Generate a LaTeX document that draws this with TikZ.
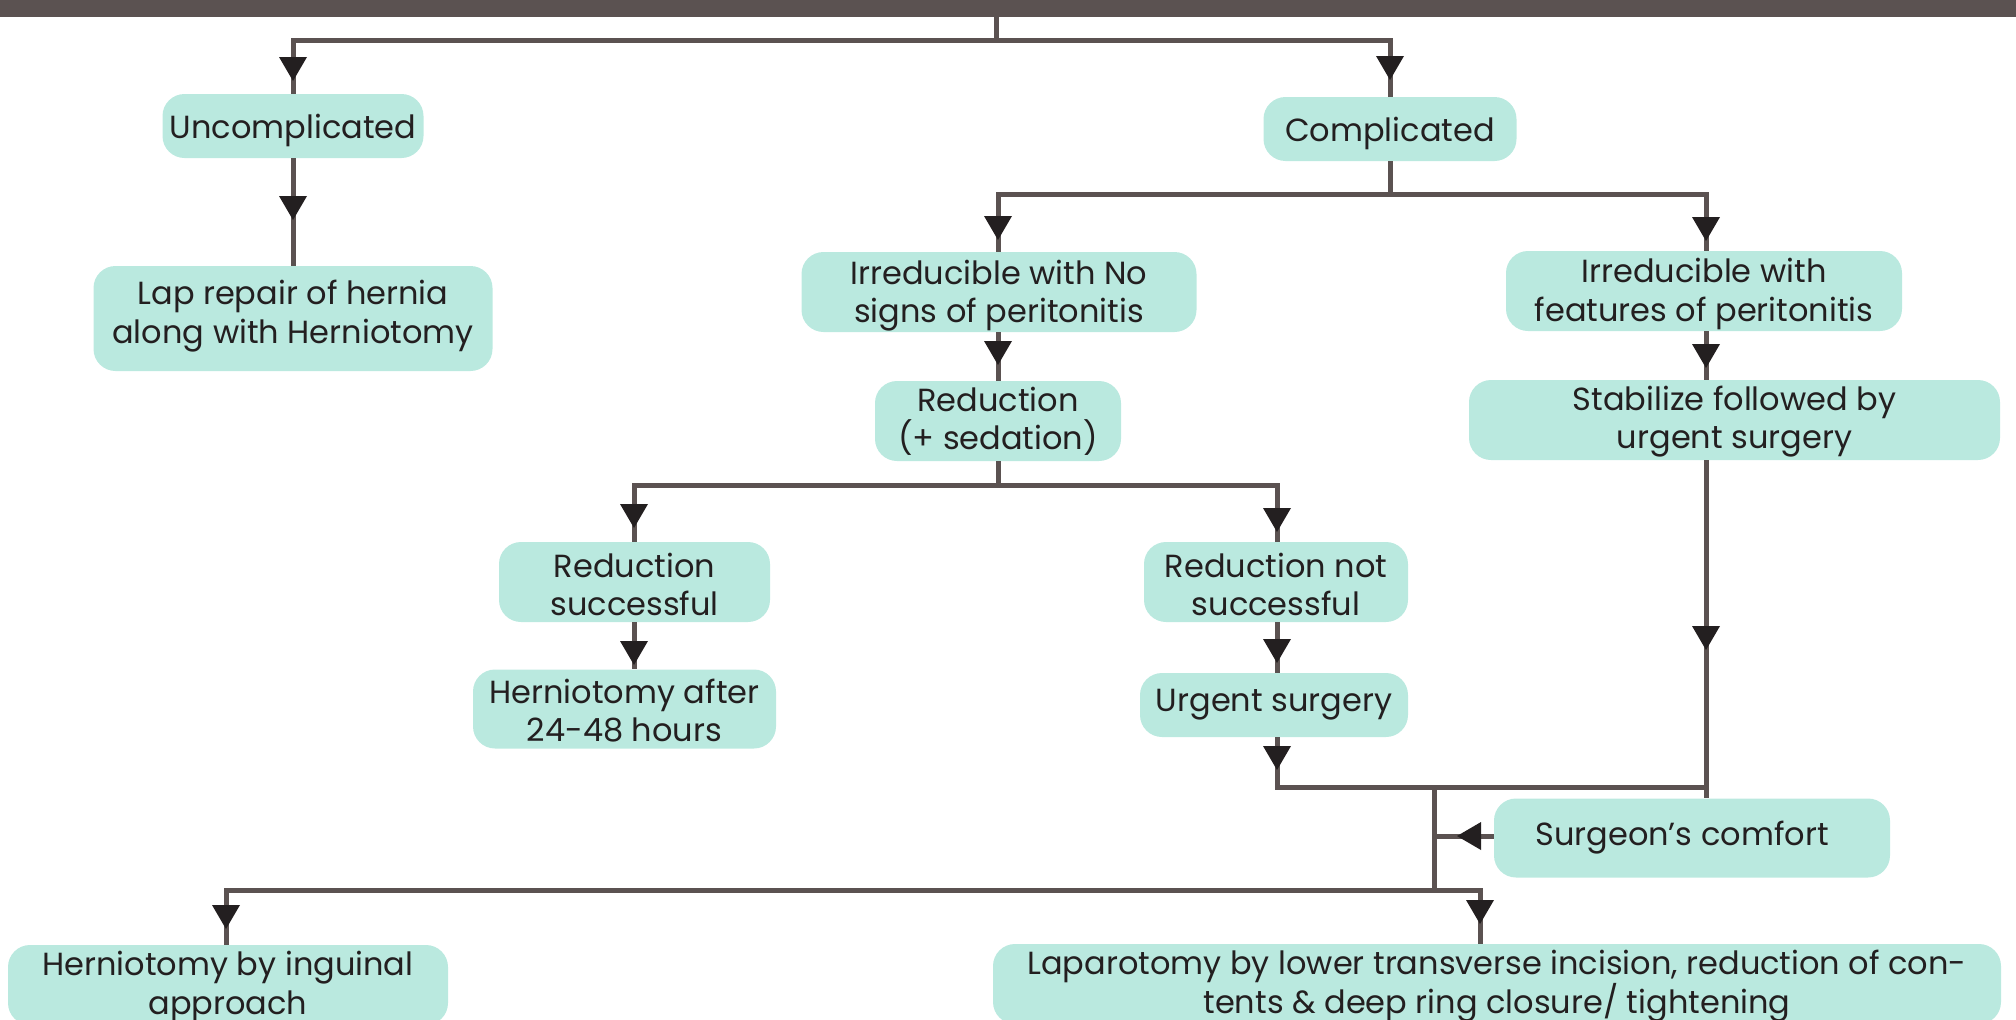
\documentclass[tikz,border=0pt]{standalone}
\usepackage{fontspec}
\setmainfont{Poppins}
\definecolor{boxc}{HTML}{BAE9DF}
\definecolor{linec}{HTML}{5B5251}
\definecolor{tipc}{HTML}{231F20}
\definecolor{textc}{HTML}{231F20}
\begin{document}
\begin{tikzpicture}[x=1pt,y=-1pt,
  box/.style={fill=boxc,rounded corners=22pt,inner sep=0pt,align=center,text=textc,
    font=\fontsize{32}{38.5}\selectfont},
  tb/.style={text height=#1,text depth=0pt},
  conn/.style={draw=linec,line width=5pt},
  tipd/.pic={\fill[tipc] (0,0) -- (-14,-24) -- (14,-24) -- cycle;},
  tipl/.pic={\fill[tipc] (0,0) -- (24,-14) -- (24,14) -- cycle;}]
\useasboundingbox (0,0) rectangle (2016,1020);
\clip (0,0) rectangle (2016,1020);
\node[fill=linec,minimum width=2016pt,minimum height=17pt,inner sep=0pt,anchor=north west] (bar) at (0,0) {};
% boxes
\node[box,minimum width=261pt,minimum height=64pt,text height=28pt,text depth=4pt] (unc) at (293,126) {Uncomplicated};
\node[box,minimum width=253pt,minimum height=64pt,text height=28pt,text depth=4pt] (comp) at (1390,129) {Complicated};
\node[box,minimum width=399pt,minimum height=105pt,tb=49pt] (lap) at (293,318.5) {Lap repair of hernia\\along with Herniotomy};
\node[box,minimum width=395pt,minimum height=80pt,tb=61pt] (irrno) at (999,292) {Irreducible with No\\signs of peritonitis};
\node[box,minimum width=396pt,minimum height=80pt,tb=60.6pt] (irrfeat) at (1704,291) {Irreducible with\\features of peritonitis};
\node[box,minimum width=246pt,minimum height=80pt,tb=57.5pt] (red) at (998,421) {Reduction\\(+ sedation)};
\node[box,minimum width=531pt,minimum height=80pt,tb=57pt] (stab) at (1734.5,420) {Stabilize followed by\\urgent surgery};
\node[box,minimum width=271pt,minimum height=80pt,tb=67.4pt] (redsucc) at (634.5,582) {Reduction\\successful};
\node[box,minimum width=264pt,minimum height=80pt,tb=67.4pt] (rednot) at (1276,582) {Reduction not\\successful};
\node[box,minimum width=303pt,minimum height=79pt,tb=65.4pt] (hafter) at (624.5,709) {Herniotomy after\\24-48 hours};
\node[box,minimum width=268pt,minimum height=64pt] (urg) at (1274,705) {Urgent surgery};
\node[box,minimum width=396pt,minimum height=79pt] (surg) at (1692,838) {\hspace*{-20pt}Surgeon’s comfort};
\node[box,minimum width=440pt,minimum height=80pt,tb=58.6pt] (hing) at (228,985) {Herniotomy by inguinal\\approach};
\node[box,minimum width=1008pt,minimum height=80pt,tb=58pt] (lap2) at (1497,984) {Laparotomy by lower transverse incision, reduction of con-\\tents \& deep ring closure/ tightening};
% junction coordinates
\coordinate (j1) at (996,40);
\coordinate (j2) at (1390,194);
\coordinate (j3) at (998,485);
\coordinate (j4) at (1434,787);
\coordinate (j5) at (1434,890);
\coordinate (j6) at (1434,836);
% connectors
\draw[conn] (bar.south -| j1) -- (j1);
\draw[conn] (unc.north) |- (j1) -| (comp.north);
\draw[conn] (unc.south) -- (unc.south |- lap.north);
\draw[conn] (comp.south) -- (j2);
\draw[conn] (irrno.north -| 998,0) |- (j2) -| (1706,0 |- irrfeat.north);
\draw[conn] (irrno.south -| red.north) -- (red.north);
\draw[conn] (1706,0 |- irrfeat.south) -- (1706,0 |- stab.north);
\draw[conn] (red.south) -- (j3);
\draw[conn] (634,0 |- redsucc.north) |- (j3) -| (1277,0 |- rednot.north);
\draw[conn] (634,0 |- redsucc.south) -- (634,0 |- hafter.north);
\draw[conn] (1277,0 |- rednot.south) -- (1277,0 |- urg.north);
\draw[conn] (1277,0 |- urg.south) |- (j4) -- (1706,787);
\draw[conn] (1706,0 |- stab.south) -- (1706,0 |- surg.north);
\draw[conn] (j4) -- (j5);
\draw[conn] (hing.north -| 226,0) |- (j5) -| (1480,0 |- lap2.north);
\draw[conn] (surg.west |- j6) -- (j6);
% arrowheads
\foreach \p in {(293,81),(1390,80),(293,220),(998,240),(1706,241),(998,365),(1706,368),(634,528),(1277,532),(634,665),(1277,663),(1277,770),(1706,650),(226,929),(1480,924)}
  \pic at \p {tipd};
\pic at (1457,836) {tipl};
\end{tikzpicture}
\end{document}
